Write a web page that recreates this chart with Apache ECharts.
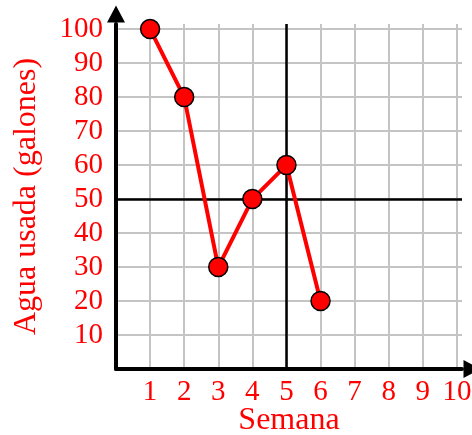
<!DOCTYPE html>
<html>
<head>
<meta charset="utf-8">
<script src="https://cdn.jsdelivr.net/npm/echarts@6/dist/echarts.min.js"></script>
<style>html,body{margin:0;padding:0;background:#fff;}#c{width:472px;height:435px;}</style>
</head>
<body>
<div id="c"></div>
<script>
const weeks = [1, 2, 3, 4, 5, 6];
const water = [100, 80, 30, 50, 60, 20];
const refX = [5];
const refY = [50];
const xName = 'Semana';
const yName = 'Agua usada (galones)';

const FONT = "'Liberation Serif', 'Times New Roman', serif";
const chart = echarts.init(document.getElementById('c'), null, {renderer: 'canvas'});
const axisCommon = {
  type: 'value',
  min: 0,
  nameLocation: 'middle',
  nameMoveOverlap: false,
  nameTextStyle: {color: '#ff0000', fontFamily: FONT, fontSize: 32},
  axisLine: {show: true, onZero: false, symbol: ['none', 'triangle'], symbolSize: [18, 17], symbolOffset: [0, 10],
    lineStyle: {color: '#000', width: 4}},
  axisTick: {show: false},
  axisLabel: {color: '#ff0000', fontFamily: FONT, fontSize: 29, showMinLabel: false, showMaxLabel: false},
  splitLine: {show: true, showMinLine: false, showMaxLine: false, lineStyle: {color: '#c4c4c4', width: 2}}
};
chart.setOption({
  animation: false,
  grid: {left: 116, right: 10, top: 24, bottom: 66, containLabel: false, outerBoundsMode: 'none'},
  xAxis: Object.assign({}, axisCommon, {
    max: 10.15, interval: 1, name: xName, nameGap: 36,
    axisLabel: Object.assign({}, axisCommon.axisLabel, {margin: 9})
  }),
  yAxis: Object.assign({}, axisCommon, {
    max: 101.5, interval: 10, name: yName, nameGap: 73,
    axisLabel: Object.assign({}, axisCommon.axisLabel, {margin: 13})
  }),
  series: [
    {
      type: 'line',
      z: 1,
      data: [],
      markLine: {
        z: 1,
        silent: true,
        symbol: ['none', 'none'],
        label: {show: false},
        lineStyle: {color: '#000', width: 2.5, type: 'solid'},
        data: refX.map(v => ({xAxis: v})).concat(refY.map(v => ({yAxis: v})))
      }
    },
    {
      type: 'line',
      z: 5,
      data: weeks.map((w, i) => [w, water[i]]),
      lineStyle: {color: '#ff0000', width: 4},
      symbol: 'circle',
      symbolSize: 19,
      itemStyle: {color: '#ff0000', borderColor: '#000', borderWidth: 1.5},
      showAllSymbol: true
    }
  ]
});
</script>
</body>
</html>
